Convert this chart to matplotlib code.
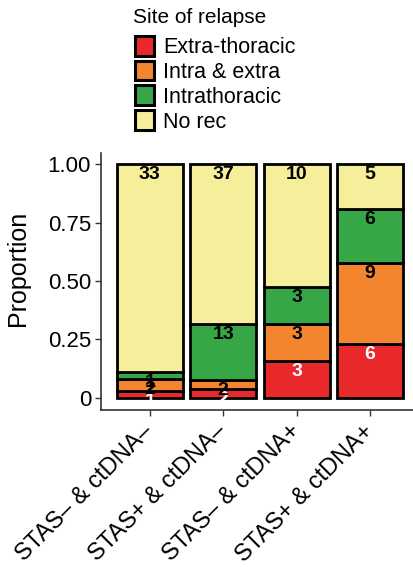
import numpy as np
import matplotlib.pyplot as plt
from matplotlib.patches import Patch

plt.rcParams['font.family'] = ['Liberation Sans', 'DejaVu Sans']

# --- Data ---
groups = ["STAS\u2013 & ctDNA\u2013", "STAS+ & ctDNA\u2013",
          "STAS\u2013 & ctDNA+", "STAS+ & ctDNA+"]
sites = ["Extra-thoracic", "Intra & extra", "Intrathoracic", "No rec"]
extra_thoracic = [1, 2, 3, 6]
intra_extra = [2, 2, 3, 9]
intrathoracic = [1, 13, 3, 6]
no_rec = [33, 37, 10, 5]

colors = ["#E8282B", "#F3852F", "#37A647", "#F5EF9C"]
text_colors = ["white", "black", "black", "black"]

counts = np.array([extra_thoracic, intra_extra, intrathoracic, no_rec], dtype=float)
props = counts / counts.sum(axis=0)

fig = plt.figure(figsize=(4.14, 5.74), dpi=100)
ax = fig.add_axes([0.245, 0.286, 0.755, 0.448])

x = np.arange(len(groups))
bottom = np.zeros(len(groups))
for i, site in enumerate(sites):
    ax.bar(x, props[i], bottom=bottom, width=0.9, color=colors[i],
           edgecolor="black", linewidth=2.0, zorder=2)
    top = bottom + props[i]
    for j in range(len(groups)):
        ax.text(x[j], top[j] - 0.045, f"{int(counts[i, j])}", ha="center", va="center",
                fontsize=14, fontweight="bold", color=text_colors[i], zorder=3)
    bottom = top

ax.set_xlim(-0.66, 3.6)
ax.set_ylim(-0.052, 1.05)
ax.set_yticks([0, 0.25, 0.5, 0.75, 1.0])
ax.set_yticklabels(["0", "0.25", "0.50", "0.75", "1.00"])
ax.set_xticks(x)
ax.set_xticklabels(groups, rotation=45, ha="right", va="center", rotation_mode="anchor")
ax.tick_params(labelsize=16, length=4, width=1, color="#333333")
ax.tick_params(axis="x", labelsize=17, pad=9)
ax.set_ylabel("Proportion", fontsize=18)
ax.yaxis.set_label_coords(-0.23, 0.55)
for s in ["top", "right"]:
    ax.spines[s].set_visible(False)
for s in ["left", "bottom"]:
    ax.spines[s].set_linewidth(1.2)
    ax.spines[s].set_color("#333333")

# legend (title drawn separately for spacing control)
fig.text(0.321, 0.970, "Site of relapse", fontsize=15, ha="left", va="center")
handles = [Patch(facecolor=c, edgecolor="black", linewidth=2.2) for c in colors]
leg = fig.legend(handles, sites, loc="upper left", bbox_to_anchor=(0.326, 0.938),
                 fontsize=15.5, frameon=False, handlelength=0.9, handleheight=1.05,
                 handletextpad=0.4, labelspacing=0.12, borderpad=0,
                 borderaxespad=0)

fig.savefig("out.png", dpi=100)
